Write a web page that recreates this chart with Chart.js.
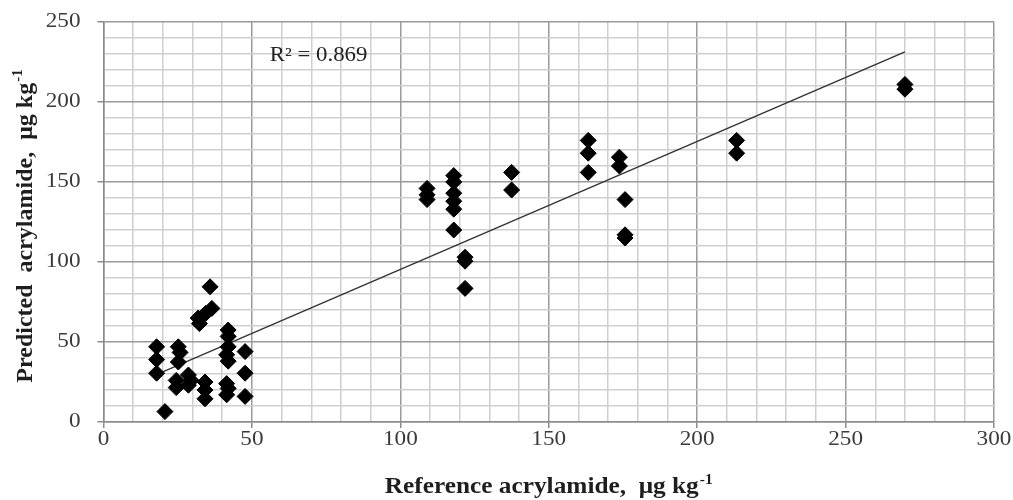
<!DOCTYPE html>
<html>
<head>
<meta charset="utf-8">
<script src="https://cdn.jsdelivr.net/npm/chart.js@4.4.1/dist/chart.umd.min.js"></script>
<style>
  html, body { margin: 0; padding: 0; background: #fff; }
  #wrap { width: 1013px; height: 500px; }
</style>
</head>
<body>
<div id="wrap"><canvas id="scatterChart"></canvas></div>
<script>
// reference vs predicted acrylamide (ug/kg)
var refX = [
    17.9, 17.9, 17.9, 20.7,
    25.2, 25.8, 25.2, 24.5, 24.5,
    28.6, 28.6, 29.5,
    34.2, 34.2, 34.2,
    31.9, 32.3, 34.5, 36.5, 35.9,
    42, 42, 42, 41.5, 42, 41.5, 41.5, 42,
    47.7, 47.7, 47.7,
    109, 109, 109,
    118, 118, 118, 118, 118, 118,
    121.8, 121.8, 121.8,
    137.5, 137.5,
    163.3, 163.3, 163.3,
    173.8, 173.8,
    175.7, 175.7, 175.7,
    213.3, 213.3,
    270, 270];
var predY = [
    47, 39, 30.5, 6.5,
    47, 43.5, 37.5, 26, 21.5,
    29.4, 23, 26,
    25, 20, 14.5,
    65, 61.5, 68, 71, 84.5,
    57.5, 53.5, 47, 42, 38, 24, 17, 21,
    44, 30.5, 16,
    146, 142, 139,
    154, 150, 143, 138, 133, 120,
    103, 100.5, 83.5,
    156, 145,
    176, 168, 156,
    165.5, 160,
    139, 117, 115,
    176, 168,
    211, 208];
// linear trendline ends
var trendX = [18, 270];
var trendY = [29.7, 231.3];
var xTicks = [0, 50, 100, 150, 200, 250, 300];
var yTicks = [0, 50, 100, 150, 200, 250];
var r2Label = 'R\u00b2 = 0.869';
var xTitle = 'Reference acrylamide,  \u03bcg kg';
var yTitle = 'Predicted  acrylamide,  \u03bcg kg';
var unitSup = '-1';

var points = refX.map(function (x, i) { return { x: x, y: predY[i] }; });
var trend = trendX.map(function (x, i) { return { x: x, y: trendY[i] }; });

function isMajor(v, list) { return list.indexOf(v) >= 0; }

var SERIF = '"Liberation Serif", "Times New Roman", serif';

// text with a raised superscript, centred on the current origin
function drawSup(ctx, main, sup, size) {
    ctx.font = 'bold ' + size + 'px ' + SERIF;
    var w1 = ctx.measureText(main).width;
    ctx.font = 'bold ' + Math.round(size * 0.62) + 'px ' + SERIF;
    var w2 = ctx.measureText(sup).width;
    var x0 = -(w1 + w2 + 1) / 2;
    ctx.textAlign = 'left';
    ctx.textBaseline = 'alphabetic';
    ctx.font = 'bold ' + size + 'px ' + SERIF;
    ctx.fillText(main, x0, 0);
    ctx.font = 'bold ' + Math.round(size * 0.62) + 'px ' + SERIF;
    ctx.fillText(sup, x0 + w1 + 1, -size * 0.4);
}

var textPlugin = {
    id: 'axisText',
    afterDraw: function (chart) {
        var ctx = chart.ctx;
        var xs = chart.scales.x, ys = chart.scales.y;
        var area = chart.chartArea;
        var stretch = 1.16;
        ctx.save();
        ctx.fillStyle = '#3a3a3a';
        ctx.font = '20px ' + SERIF;
        ctx.textBaseline = 'middle';
        yTicks.forEach(function (v) {
            ctx.save();
            ctx.translate(area.left - 23, ys.getPixelForValue(v));
            ctx.scale(stretch, 1);
            ctx.textAlign = 'right';
            ctx.fillText(String(v), 0, 0);
            ctx.restore();
        });
        xTicks.forEach(function (v) {
            ctx.save();
            ctx.translate(xs.getPixelForValue(v), area.bottom + 18);
            ctx.scale(stretch, 1);
            ctx.textAlign = 'center';
            ctx.fillText(String(v), 0, 0);
            ctx.restore();
        });

        // R squared
        ctx.save();
        ctx.fillStyle = '#222';
        ctx.font = '20px ' + SERIF;
        ctx.textAlign = 'left';
        ctx.textBaseline = 'middle';
        ctx.translate(xs.getPixelForValue(56), ys.getPixelForValue(229));
        ctx.scale(1.14, 1);
        ctx.fillText(r2Label, 0, 0);
        ctx.restore();

        // axis titles
        ctx.fillStyle = '#1e1e1e';
        ctx.save();
        ctx.translate((area.left + area.right) / 2, 493);
        ctx.scale(1.1, 1);
        drawSup(ctx, xTitle, unitSup, 23);
        ctx.restore();

        ctx.save();
        ctx.translate(32, 226);
        ctx.rotate(-Math.PI / 2);
        drawSup(ctx, yTitle, unitSup, 24);
        ctx.restore();
        ctx.restore();
    }
};

var scatterChart = new Chart("scatterChart", {
    type: 'scatter',
    data: {
        datasets: [{
            label: 'Data',
            data: points,
            backgroundColor: '#000',
            borderColor: '#000',
            pointStyle: 'rectRot',
            pointRadius: 8,
            pointHoverRadius: 8
        }, {
            type: 'line',
            label: 'Trend',
            data: trend,
            borderColor: '#333',
            borderWidth: 1.4,
            pointRadius: 0,
            fill: false
        }]
    },
    options: {
        responsive: true,
        maintainAspectRatio: false,
        animation: false,
        layout: { padding: { top: 22, right: 19, left: 0, bottom: 0 } },
        plugins: {
            legend: { display: false },
            tooltip: { enabled: false }
        },
        scales: {
            x: {
                type: 'linear',
                min: 0, max: 300,
                ticks: {
                    stepSize: 10,
                    autoSkip: false,
                    maxRotation: 0,
                    callback: function () { return ''; }
                },
                grid: {
                    lineWidth: 1.5,
                    color: function (c) { return isMajor(c.tick.value, xTicks) ? '#9a9a9a' : '#cfcfcf'; },
                    tickColor: function (c) { return isMajor(c.tick.value, xTicks) ? '#8a8a8a' : 'rgba(0,0,0,0)'; },
                    tickLength: 6
                },
                border: { color: '#8a8a8a', width: 1.5 },
                title: { display: false },
                afterFit: function (s) { s.height = 78; }
            },
            y: {
                type: 'linear',
                min: 0, max: 250,
                ticks: {
                    stepSize: 10,
                    autoSkip: false,
                    callback: function () { return ''; }
                },
                grid: {
                    lineWidth: 1.5,
                    color: function (c) { return isMajor(c.tick.value, yTicks) ? '#9a9a9a' : '#cfcfcf'; },
                    tickColor: function (c) { return isMajor(c.tick.value, yTicks) ? '#8a8a8a' : 'rgba(0,0,0,0)'; },
                    tickLength: 6
                },
                border: { color: '#8a8a8a', width: 1.5 },
                title: { display: false },
                afterFit: function (s) { s.width = 103.5; }
            }
        }
    },
    plugins: [textPlugin]
});
</script>
</body>
</html>
